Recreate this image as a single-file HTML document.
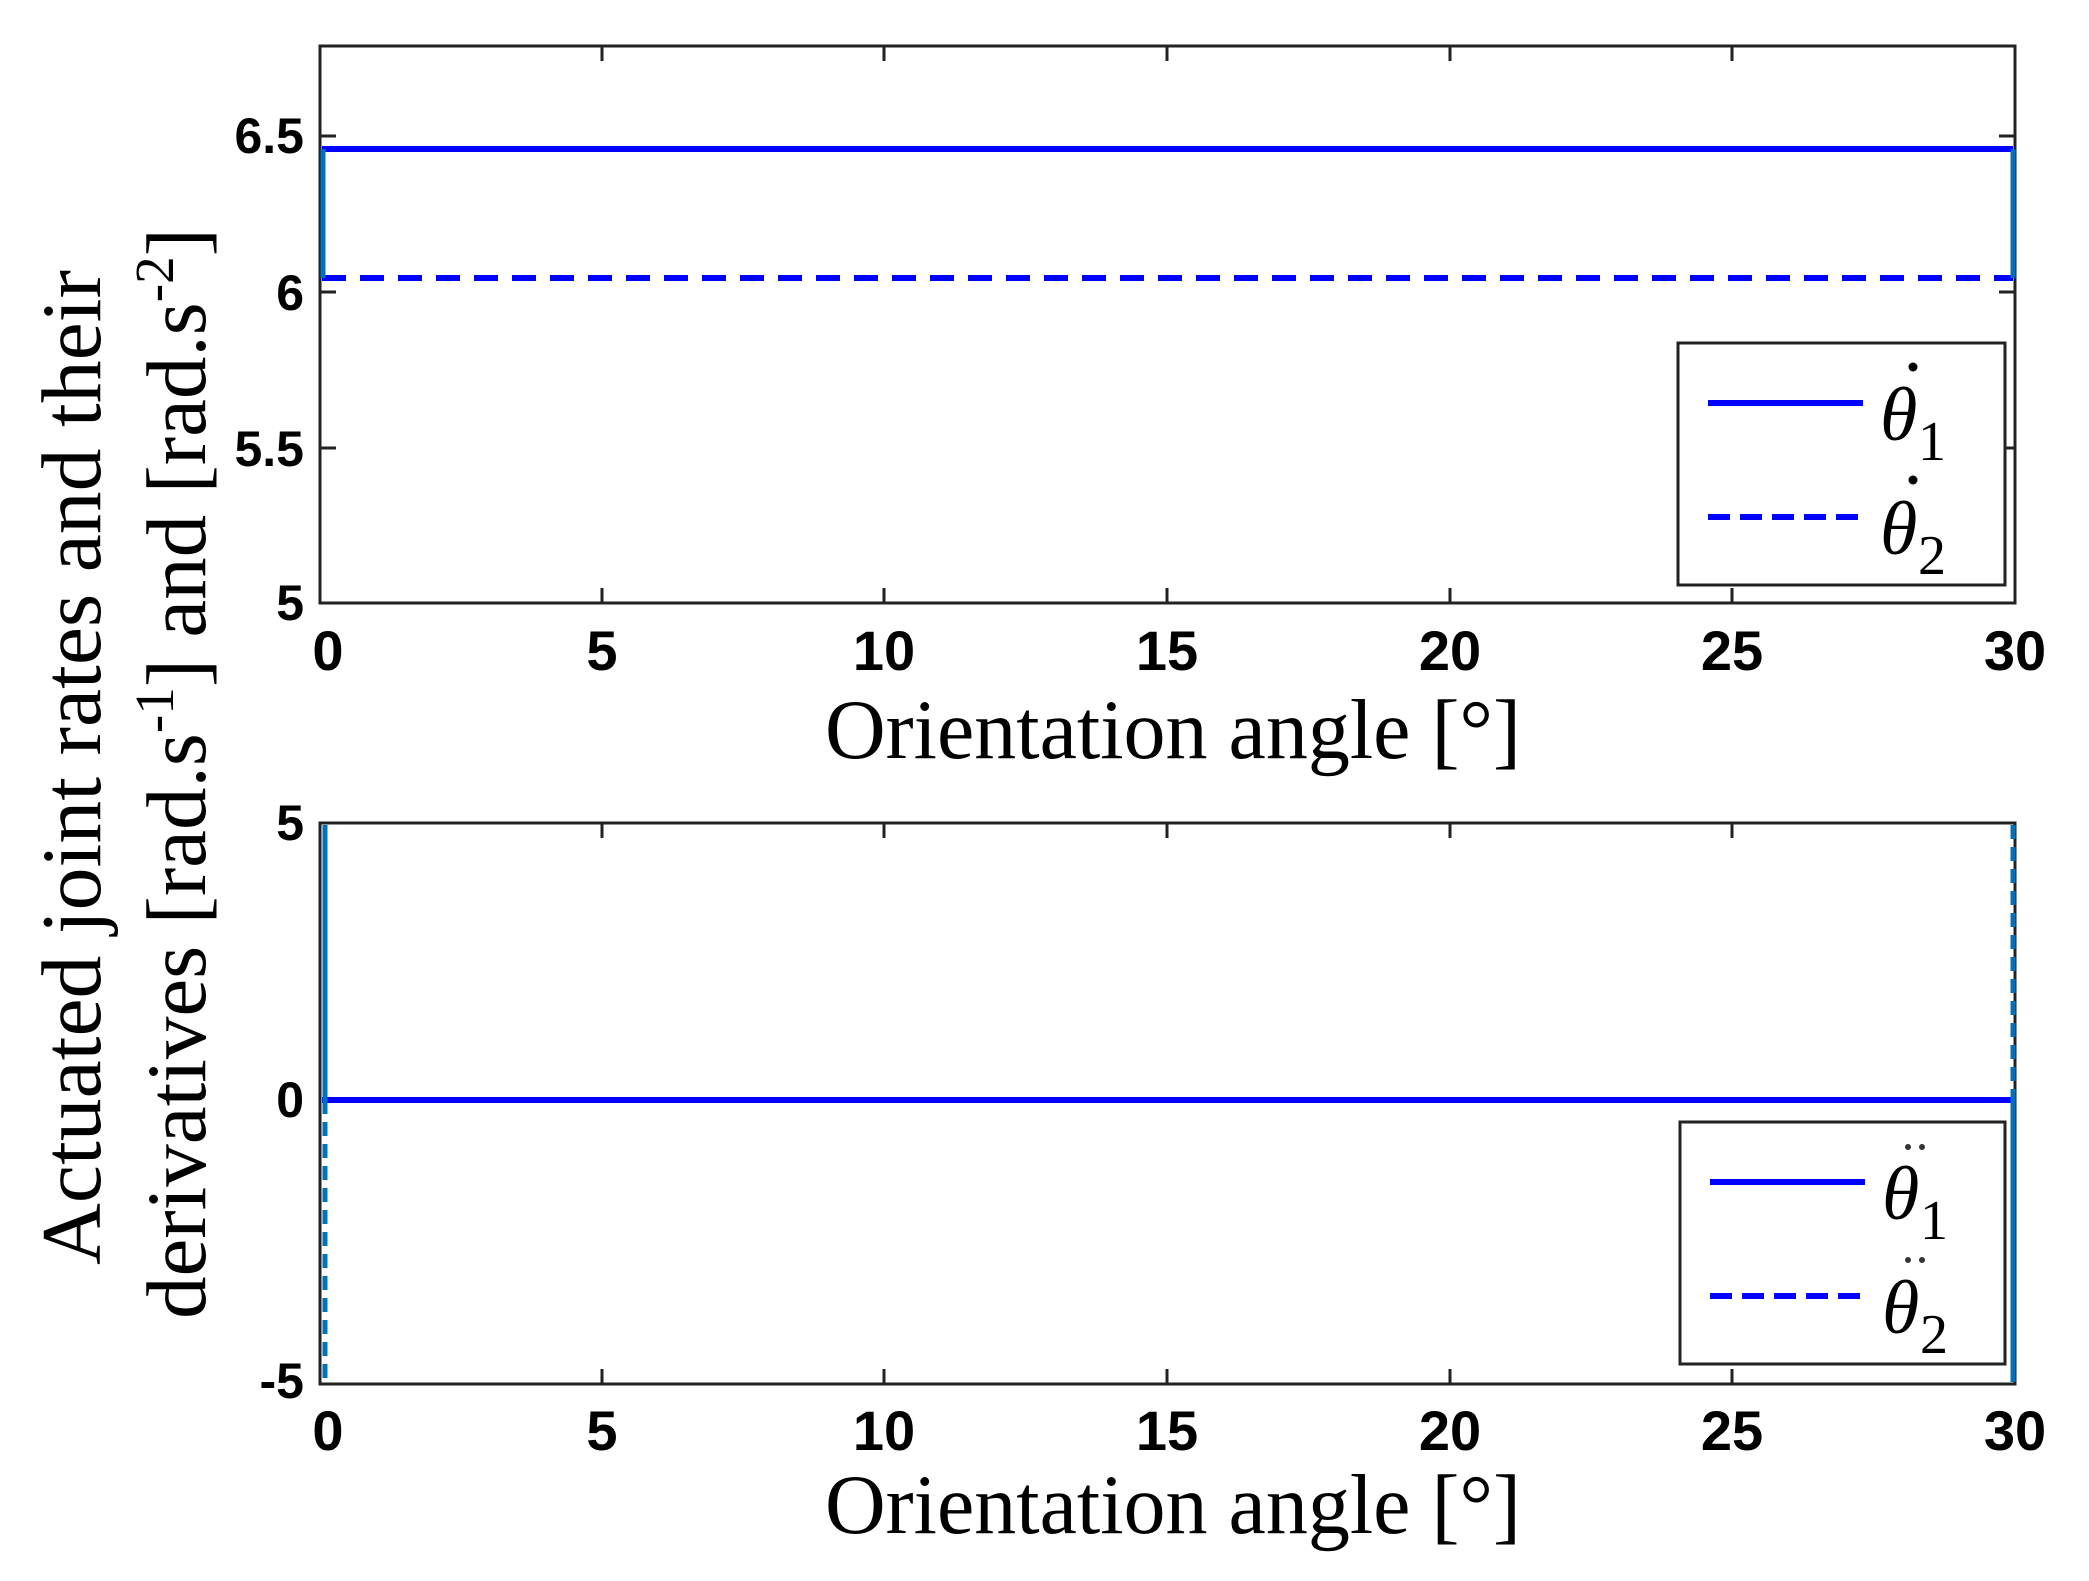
<!DOCTYPE html>
<html><head><meta charset="utf-8"><style>html,body{margin:0;padding:0;background:#fff}svg{display:block}</style></head>
<body>
<svg width="2089" height="1581" viewBox="0 0 2089 1581" xmlns="http://www.w3.org/2000/svg">
<rect width="2089" height="1581" fill="#fff"/>
<g font-family="Liberation Sans, DejaVu Sans, sans-serif" font-weight="bold" font-size="50" fill="#000">
<!-- top axes -->
<rect x="320" y="46" width="1695" height="557" fill="none" stroke="#222" stroke-width="3"/>
<g stroke="#222" stroke-width="3">
<line x1="602" y1="603" x2="602" y2="588"/><line x1="884" y1="603" x2="884" y2="588"/><line x1="1167" y1="603" x2="1167" y2="588"/><line x1="1450" y1="603" x2="1450" y2="588"/><line x1="1732" y1="603" x2="1732" y2="588"/>
<line x1="602" y1="46" x2="602" y2="61"/><line x1="884" y1="46" x2="884" y2="61"/><line x1="1167" y1="46" x2="1167" y2="61"/><line x1="1450" y1="46" x2="1450" y2="61"/><line x1="1732" y1="46" x2="1732" y2="61"/>
<line x1="320" y1="136" x2="336" y2="136"/><line x1="320" y1="292" x2="336" y2="292"/><line x1="320" y1="448" x2="336" y2="448"/>
<line x1="2015" y1="136" x2="1999" y2="136"/><line x1="2015" y1="292" x2="1999" y2="292"/><line x1="2015" y1="448" x2="1999" y2="448"/>
</g>
<line x1="322" y1="149" x2="2013" y2="149" stroke="#0000ff" stroke-width="6"/>
<line x1="322" y1="278" x2="2013" y2="278" stroke="#0000ff" stroke-width="6" stroke-dasharray="24,14"/>
<line x1="323" y1="149" x2="323" y2="278" stroke="#0072BD" stroke-width="5"/>
<line x1="2013" y1="149" x2="2013" y2="278" stroke="#0072BD" stroke-width="5"/>
<g text-anchor="end"><text x="304" y="153">6.5</text><text x="304" y="310">6</text><text x="304" y="466">5.5</text><text x="304" y="620">5</text></g>
<g text-anchor="middle" font-size="56"><text x="328" y="670">0</text><text x="602" y="670">5</text><text x="884" y="670">10</text><text x="1167" y="670">15</text><text x="1450" y="670">20</text><text x="1732" y="670">25</text><text x="2015" y="670">30</text></g>
<!-- legend top -->
<rect x="1678" y="343" width="327" height="242" fill="#fff" stroke="#222" stroke-width="3"/>
<line x1="1708" y1="403" x2="1863" y2="403" stroke="#0000ff" stroke-width="6"/>
<line x1="1708" y1="517" x2="1858" y2="517" stroke="#0000ff" stroke-width="6" stroke-dasharray="22,10"/>
<g font-family="Liberation Serif, serif" font-weight="normal" font-style="italic" font-size="76">
<text x="1880" y="440">θ</text><text x="1880" y="554">θ</text></g>
<g font-family="Liberation Serif, serif" font-weight="normal" font-size="56">
<text x="1918" y="460">1</text><text x="1918" y="574">2</text></g>
<circle cx="1913" cy="367" r="4.5" fill="#000"/><circle cx="1913" cy="480" r="4.5" fill="#000"/>

<!-- bottom axes -->
<rect x="320" y="823" width="1695" height="561" fill="none" stroke="#222" stroke-width="3"/>
<g stroke="#222" stroke-width="3">
<line x1="602" y1="1384" x2="602" y2="1369"/><line x1="884" y1="1384" x2="884" y2="1369"/><line x1="1167" y1="1384" x2="1167" y2="1369"/><line x1="1450" y1="1384" x2="1450" y2="1369"/><line x1="1732" y1="1384" x2="1732" y2="1369"/>
<line x1="602" y1="823" x2="602" y2="838"/><line x1="884" y1="823" x2="884" y2="838"/><line x1="1167" y1="823" x2="1167" y2="838"/><line x1="1450" y1="823" x2="1450" y2="838"/><line x1="1732" y1="823" x2="1732" y2="838"/>
</g>
<line x1="322" y1="1100" x2="2013" y2="1100" stroke="#0000ff" stroke-width="6"/>
<line x1="325" y1="825" x2="325" y2="1100" stroke="#0072BD" stroke-width="5"/>
<line x1="325" y1="1100" x2="325" y2="1382" stroke="#0072BD" stroke-width="5" stroke-dasharray="14,8"/>
<line x1="2013" y1="1100" x2="2013" y2="1382" stroke="#0072BD" stroke-width="5"/>
<line x1="2013" y1="825" x2="2013" y2="1100" stroke="#0072BD" stroke-width="5" stroke-dasharray="14,8"/>
<g text-anchor="end"><text x="304" y="840">5</text><text x="304" y="1117">0</text><text x="304" y="1398">-5</text></g>
<g text-anchor="middle" font-size="56"><text x="328" y="1450">0</text><text x="602" y="1450">5</text><text x="884" y="1450">10</text><text x="1167" y="1450">15</text><text x="1450" y="1450">20</text><text x="1732" y="1450">25</text><text x="2015" y="1450">30</text></g>
<rect x="1680" y="1122" width="325" height="242" fill="#fff" stroke="#222" stroke-width="3"/>
<line x1="1710" y1="1182" x2="1865" y2="1182" stroke="#0000ff" stroke-width="6"/>
<line x1="1710" y1="1296" x2="1860" y2="1296" stroke="#0000ff" stroke-width="6" stroke-dasharray="22,10"/>
<g font-family="Liberation Serif, serif" font-weight="normal" font-style="italic" font-size="76">
<text x="1882" y="1219">θ</text><text x="1882" y="1333">θ</text></g>
<g font-family="Liberation Serif, serif" font-weight="normal" font-size="56">
<text x="1920" y="1239">1</text><text x="1920" y="1353">2</text></g>
<g fill="#333"><circle cx="1908" cy="1147" r="3"/><circle cx="1922" cy="1147" r="3"/><circle cx="1908" cy="1260" r="3"/><circle cx="1922" cy="1260" r="3"/></g>
</g>

<g font-family="Liberation Serif, serif" font-size="85" fill="#000">
<text x="825" y="758" textLength="696" lengthAdjust="spacingAndGlyphs">Orientation angle [°]</text>
<text x="825" y="1533" textLength="696" lengthAdjust="spacingAndGlyphs">Orientation angle [°]</text>
<text transform="translate(100,1265) rotate(-90)" textLength="995" lengthAdjust="spacingAndGlyphs">Actuated joint rates and their</text>
<text transform="translate(205,1319) rotate(-90)" textLength="1091" lengthAdjust="spacingAndGlyphs">derivatives [rad.s<tspan font-size="55" dy="-32">-1</tspan><tspan dy="32">] and [rad.s</tspan><tspan font-size="55" dy="-32">-2</tspan><tspan dy="32">]</tspan></text>
</g>
</svg>
</body></html>
